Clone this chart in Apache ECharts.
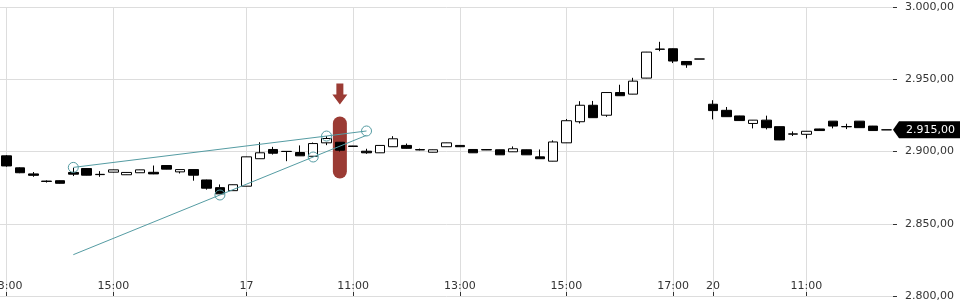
<!DOCTYPE html>
<html>
<head>
<meta charset="utf-8">
<script src="https://cdn.jsdelivr.net/npm/echarts@6/dist/echarts.min.js"></script>
<style>
html,body{margin:0;padding:0;background:#fff;}
#chart{width:960px;height:300px;}
</style>
</head>
<body>
<div id="chart"></div>
<script>
// ---- data ----
const categories = [
 '16 13:00','16 13:15','16 13:30','16 13:45','16 14:00','16 14:15','16 14:30','16 14:45',
 '16 15:00','16 15:15','16 15:30','16 15:45','16 16:00','16 16:15','16 16:30','16 16:45',
 '16 17:00','16 17:15',
 '17 09:00','17 09:15','17 09:30','17 09:45','17 10:00','17 10:15','17 10:30','17 10:45',
 '17 11:00','17 11:15','17 11:30','17 11:45','17 12:00','17 12:15','17 12:30','17 12:45',
 '17 13:00','17 13:15','17 13:30','17 13:45','17 14:00','17 14:15','17 14:30','17 14:45',
 '17 15:00','17 15:15','17 15:30','17 15:45','17 16:00','17 16:15','17 16:30','17 16:45',
 '17 17:00','17 17:15','17 17:30',
 '20 09:15','20 09:30','20 09:45','20 10:00','20 10:15','20 10:30','20 10:45',
 '20 11:00','20 11:15','20 11:30','20 11:45','20 12:00','20 12:15','20 12:30'
];
const opens = [2897,2888.7,2884.5,2879.5,2879.8,2885.5,2888.2,2884,2885.7,2883.9,2885.3,2885.6,2890.3,2885.9,2887.5,2880.3,2875,2872.9,
 2876,2895,2901.4,2900.1,2899.3,2896.7,2906,2906.4,2903.8,2900.2,2899.1,2903.3,2904.2,2901.3,2899.5,2903.3,2904.2,2901.4,2901.3,2901.2,2899.8,2901.2,2896.3,2893.3,2906,2920.6,2932,2925.1,2940.8,2939.7,2950.8,2970.7,2971.1,2962.3,2964,
 2932.7,2928.5,2924.6,2919.4,2921.7,2917.2,2912,2911.9,2915.6,2921,2917.1,2921,2917.6,2915];
const closes = [2890,2885.3,2883.5,2879.3,2878,2884.3,2883.6,2884.2,2887.3,2885.5,2887.3,2884.5,2887.8,2887.5,2883.6,2874.6,2870.7,2877,
 2896.3,2899.1,2898.8,2900,2897,2905.5,2909,2900.9,2903.5,2899.1,2904.2,2908.8,2902.2,2901.1,2901.2,2906,2903.3,2899.1,2901.1,2897.7,2901.9,2897.7,2895,2906.6,2921.3,2932,2923.4,2940.8,2938.6,2948.7,2968.8,2970.9,2962.6,2960,2964,
 2928.3,2924.1,2921.4,2921.7,2916.5,2908,2912.2,2914,2914.5,2917.6,2917.3,2916.5,2914.5,2915];
const lows = [2889.5,2885,2882.5,2878.5,2877.8,2883,2883.5,2882.5,2885.5,2883.8,2885.2,2884.3,2887.7,2884.8,2879.8,2873.6,2870.5,2872.8,
 2875.9,2894.9,2897.9,2893.3,2896.9,2896.5,2904.4,2900,2903.4,2898.4,2899,2903.2,2902,2900.8,2899.4,2903.2,2903.2,2899,2901,2897.6,2899.7,2897.6,2894.9,2893.2,2905.9,2919.4,2923.3,2924,2938.5,2939.6,2950.7,2969.4,2961.2,2957.9,2964,
 2922.2,2924,2921.3,2916,2915.3,2907.9,2910.7,2909,2914.4,2916,2915.5,2916.4,2914.4,2915];
const highs = [2897.5,2889,2885.8,2880,2880,2888.7,2888.3,2886.4,2887.5,2885.6,2887.4,2890.3,2890.4,2887.6,2887.6,2880.5,2877.2,2877.1,
 2896.4,2906.4,2903.2,2900.2,2904.2,2906.2,2910.6,2906.6,2903.9,2901.9,2904.3,2910.6,2905.5,2902,2901.3,2906.1,2904.3,2901.5,2901.4,2901.3,2903.5,2901.3,2901.4,2907.7,2922.5,2934.8,2935,2941,2946.2,2951,2968.9,2975.9,2971.3,2962.4,2964,
 2935.5,2930.8,2924.7,2921.8,2924.8,2917.3,2913.9,2914.1,2915.7,2921.1,2919.2,2921.1,2917.7,2915];

const labelIdx  = [0, 8, 18, 26, 34, 42, 50, 53, 60];
const labelText = ['13:00','15:00','17','11:00','13:00','15:00','17:00','20','11:00'];

// drawing annotations (category index, price)
const upperLine = [[5, 2889], [24, 2910.7], [27, 2914.2]];
const lowerLine = [[5, 2828.6], [16, 2869.9], [23, 2896.2], [27, 2911.2]];
const lowerCircles = [false, true, true, false];
const markerPill = [[25, 2886.2], [25, 2919.4]];
const markerArrow = [[25, 2939.8]];
const lastPrice = closes[closes.length - 1];

// ---- chart ----
const fmt = v => {
  const parts = v.toFixed(2).split('.');
  const intp = parts[0].replace(/\B(?=(\d{3})+(?!\d))/g, '.');
  return intp + ',' + parts[1];
};
const candleData = opens.map((o, i) => [o, closes[i], lows[i], highs[i]]);
const showIdx = (i) => labelIdx.indexOf(i) >= 0;
const teal = '#559ca3';
const red = '#9b3b34';
const GRID_RIGHT = 67;

const chart = echarts.init(document.getElementById('chart'), null, {renderer: 'canvas'});
chart.setOption({
  animation: false,
  backgroundColor: '#fff',
  grid: {left: 0, right: GRID_RIGHT, top: 7, bottom: 4, containLabel: false, outerBoundsMode: 'none'},
  xAxis: [{
    type: 'category',
    data: categories,
    boundaryGap: true,
    axisLine: {show: false, onZero: false},
    axisTick: {show: true, inside: true, length: 4, alignWithLabel: true, interval: showIdx,
      lineStyle: {color: '#333'}},
    axisLabel: {inside: true, margin: 4, interval: showIdx, color: '#333',
      fontFamily: 'DejaVu Sans', fontSize: 11, hideOverlap: false,
      formatter: (v, i) => { const k = labelIdx.indexOf(i); return k >= 0 ? labelText[k] : ''; }},
    splitLine: {show: true, alignWithLabel: true, interval: showIdx, lineStyle: {color: '#dddddd', width: 1}}
  }, {
    type: 'value', min: -0.5, max: categories.length - 0.5, show: false,
    axisLine: {onZero: false}
  }],
  yAxis: {
    type: 'value', position: 'right', min: 2800, max: 3000, interval: 50,
    axisLine: {show: false, onZero: false},
    axisTick: {show: true, length: 4, lineStyle: {color: '#333'}},
    axisLabel: {margin: 12, color: '#333', fontFamily: 'DejaVu Sans', fontSize: 11, formatter: fmt},
    splitLine: {show: true, lineStyle: {color: '#dddddd', width: 1}}
  },
  series: [
    {
      type: 'line', xAxisIndex: 1, data: markerPill, z: 1, symbol: 'none', silent: true,
      lineStyle: {color: red, width: 14, cap: 'round', opacity: 1}
    },
    {
      type: 'scatter', xAxisIndex: 1, data: markerArrow, z: 1, silent: true,
      symbol: 'path://M4,0 L11,0 L11,11 L15,11 L7.5,21 L0,11 L4,11 Z',
      symbolSize: [15, 21], itemStyle: {color: red, opacity: 1}
    },
    {
      type: 'candlestick', data: candleData, z: 3, barWidth: 10,
      itemStyle: {color: '#ffffff', color0: '#000000', borderColor: '#000000', borderColor0: '#000000',
        borderColorDoji: '#000000', borderWidth: 1}
    },
    {
      type: 'line', xAxisIndex: 1, data: upperLine, z: 5, silent: true,
      symbol: 'circle', symbolSize: 10, showSymbol: true,
      lineStyle: {color: teal, width: 1},
      itemStyle: {color: 'rgba(255,255,255,0)', borderColor: teal, borderWidth: 1}
    },
    {
      type: 'line', xAxisIndex: 1, z: 5, silent: true,
      data: lowerLine.map((p, i) => ({value: p, symbol: lowerCircles[i] ? 'circle' : 'none'})),
      symbol: 'circle', symbolSize: 10, showSymbol: true,
      lineStyle: {color: teal, width: 1},
      itemStyle: {color: 'rgba(255,255,255,0)', borderColor: teal, borderWidth: 1}
    }
  ]
});

// last price tag on the right axis
const py = chart.convertToPixel({yAxisIndex: 0}, lastPrice);
const ax = chart.getWidth() - GRID_RIGHT;
chart.setOption({
  graphic: [{
    type: 'polygon', z: 100,
    shape: {points: [[ax, py], [ax + 6, py - 8.5], [960, py - 8.5], [960, py + 8.5], [ax + 6, py + 8.5]]},
    style: {fill: '#000'}
  }, {
    type: 'text', z: 101, x: ax + 13, y: py,
    style: {text: fmt(lastPrice), fill: '#fff', font: '11px "DejaVu Sans"', verticalAlign: 'middle', align: 'left'}
  }]
});
</script>
</body>
</html>
